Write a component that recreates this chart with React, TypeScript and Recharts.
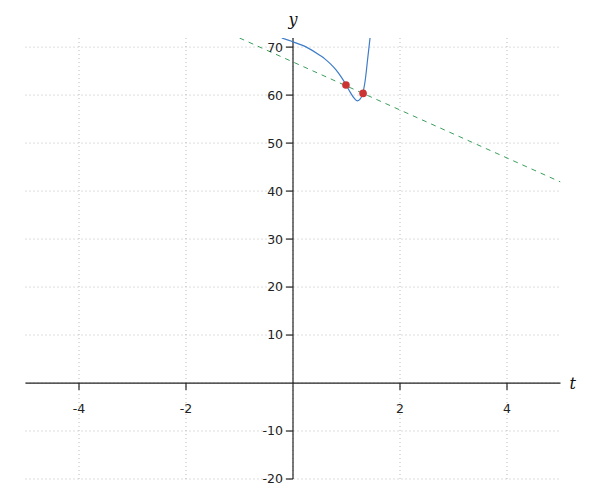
import React from 'react';
import { ComposedChart, Line, Scatter, XAxis, YAxis, CartesianGrid, ReferenceLine } from 'recharts';

const curveT = [-0.21, 0, 0.25, 0.5, 0.6, 0.7, 0.8, 0.9, 1.0, 1.08, 1.14, 1.2, 1.25, 1.3, 1.35, 1.4, 1.44];
const curveY = [71.9, 71.1, 70.0, 68.3, 67.5, 66.5, 65.3, 63.8, 62.0, 60.4, 59.4, 58.8, 59.1, 60.2, 63.1, 68.0, 71.9];
const lineT = [-1.0, 5];
const lineY = [71.9, 41.9];
const pointT = [0.99, 1.31];
const pointY = [62.1, 60.35];
const xTicks = [-4, -2, 2, 4];
const yTicks = [-20, -10, 10, 20, 30, 40, 50, 60, 70];
const xGrid = [-4, -2, 0, 2, 4];
const yGrid = [-20, -10, 0, 10, 20, 30, 40, 50, 60, 70];

const curveData = curveT.map((x, i) => ({ x, y: curveY[i] }));
const lineData = lineT.map((x, i) => ({ x, y: lineY[i] }));
const pointData = pointT.map((x, i) => ({ x, y: pointY[i] }));

const AX = '#222';
const FONT = 'DejaVu Sans, sans-serif';

export default function App() {
  return (
    <ComposedChart width={592} height={484} margin={{ top: 30, right: 39.5, bottom: 13, left: 17.5 }}>
      <XAxis type="number" dataKey="x" domain={[-5, 5]} allowDataOverflow hide />
      <YAxis type="number" dataKey="y" domain={[-20, 71.9]} allowDataOverflow hide />
      <CartesianGrid
        horizontalValues={yGrid}
        verticalValues={xGrid}
        stroke="#bbb"
        strokeDasharray="1 3"
      />
      <ReferenceLine
        y={0}
        stroke={AX}
        strokeWidth={1.2}
        label={{ value: 't', position: 'right', offset: 9, fill: '#111', fontSize: 16, fontStyle: 'italic', fontFamily: 'DejaVu Serif, serif' }}
      />
      <ReferenceLine
        x={0}
        stroke={AX}
        strokeWidth={1.2}
        label={{ value: 'y', position: 'top', offset: 13, fill: '#111', fontSize: 16, fontStyle: 'italic', fontFamily: 'DejaVu Serif, serif' }}
      />
      {xTicks.map((t) => (
        <ReferenceLine
          key={'xt' + t}
          segment={[{ x: t, y: 0 }, { x: t, y: -1.45 }]}
          stroke={AX}
          strokeWidth={1.2}
          label={{ value: String(t), position: 'bottom', offset: 14, fill: '#222', fontSize: 12.5, fontFamily: FONT }}
        />
      ))}
      {yTicks.map((v) => (
        <ReferenceLine
          key={'yt' + v}
          segment={[{ x: -0.13, y: v }, { x: 0, y: v }]}
          stroke={AX}
          strokeWidth={1.2}
          label={{ value: String(v), position: 'left', offset: 3, fill: '#222', fontSize: 12.5, fontFamily: FONT }}
        />
      ))}
      <Line
        data={lineData}
        dataKey="y"
        type="linear"
        stroke="#3a9e5c"
        strokeWidth={1}
        strokeDasharray="5 5"
        dot={false}
        isAnimationActive={false}
      />
      <Line
        data={curveData}
        dataKey="y"
        type="monotone"
        stroke="#3d7cc9"
        strokeWidth={1.2}
        dot={false}
        isAnimationActive={false}
      />
      <Scatter
        data={pointData}
        dataKey="y"
        fill="#cc3333"
        isAnimationActive={false}
        shape={(p: any) => <circle cx={p.cx} cy={p.cy} r={3.8} fill="#cc3333" />}
      />
    </ComposedChart>
  );
}
